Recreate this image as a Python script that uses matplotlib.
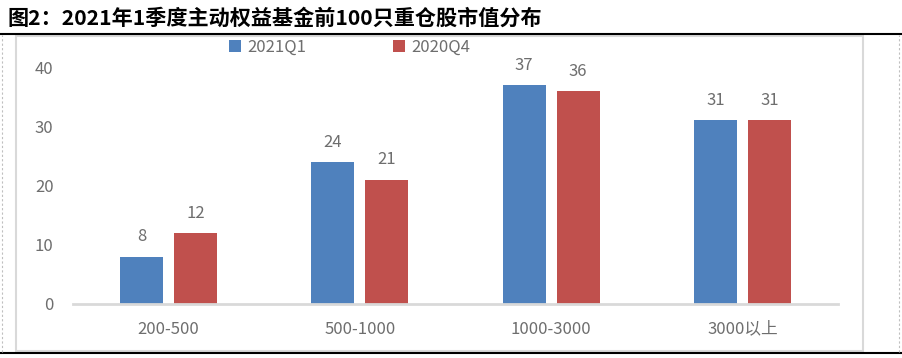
import matplotlib
matplotlib.use("Agg")
import matplotlib.pyplot as plt
import numpy as np
from matplotlib.patches import Rectangle
from matplotlib.lines import Line2D

plt.rcParams['font.family'] = ['Noto Sans CJK SC', 'DejaVu Sans']

title = "图2：2021年1季度主动权益基金前100只重仓股市值分布"
categories = ["200-500", "500-1000", "1000-3000", "3000以上"]
series_names = ["2021Q1", "2020Q4"]
q1_2021 = [8, 24, 37, 31]
q4_2020 = [12, 21, 36, 31]
colors = ["#4F81BD", "#C0504D"]
yticks = [0, 10, 20, 30, 40]

W, H = 903, 358
fig = plt.figure(figsize=(W / 100, H / 100), dpi=100)

# frame decorations
fig.add_artist(Line2D([0, 1], [1 - 34 / H, 1 - 34 / H], color="black", lw=1.5, transform=fig.transFigure))
fig.add_artist(Line2D([0, 1], [1 - 353 / H, 1 - 353 / H], color="black", lw=1.5, transform=fig.transFigure))
fig.add_artist(Rectangle((16 / W, 1 - 351 / H), (863 - 16) / W, (351 - 36) / H, fill=False,
                         edgecolor="#d9d9d9", lw=1.5, transform=fig.transFigure))
for xv in (2 / W, 899 / W):
    fig.add_artist(Line2D([xv, xv], [1 - 352 / H, 1 - 35 / H], color="#bfbfbf", lw=0.8,
                          ls=(0, (2, 2)), transform=fig.transFigure))

fig.text(8 / W, 1 - 18 / H, title, fontsize=15.2, fontweight="bold", va="center", ha="left", color="black")

txt_color = "#6e6e6e"
fw = "light"
ax = fig.add_axes([73 / W, 1 - 304 / H, (838 - 73) / W, (304 - 67) / H])
x = np.arange(len(categories))
bw = 0.225
off = 0.141
b1 = ax.bar(x - off, q1_2021, bw, color=colors[0], label=series_names[0], zorder=2)
b2 = ax.bar(x + off, q4_2020, bw, color=colors[1], label=series_names[1], zorder=2)
for bars in (b1, b2):
    for r in bars:
        ax.annotate(f"{int(r.get_height())}", (r.get_x() + r.get_width() / 2, r.get_height()),
                    xytext=(0, 8), textcoords="offset points", ha="center", va="bottom",
                    fontsize=12, color=txt_color, fontweight=fw)

ax.set_xlim(-0.5, len(categories) - 0.5)
ax.set_ylim(0, 40)
ax.set_yticks(yticks)
ax.set_yticklabels([str(v) for v in yticks], fontsize=12, color=txt_color, fontweight=fw)
ax.set_xticks(x)
ax.set_xticklabels(categories, fontsize=12, color=txt_color, fontweight=fw)
ax.tick_params(axis="both", length=0)
ax.tick_params(axis="y", pad=14)
ax.tick_params(axis="x", pad=12)
for s in ("top", "right", "left"):
    ax.spines[s].set_visible(False)
ax.spines["bottom"].set_color("#d9d9d9")
ax.spines["bottom"].set_linewidth(2)
ax.patch.set_alpha(0)

leg = fig.legend(handles=[b1, b2], labels=series_names, loc="center", bbox_to_anchor=(350 / W, 1 - 47 / H),
                 ncol=2, frameon=False, fontsize=12, handlelength=0.7, handleheight=0.7,
                 columnspacing=5.2, handletextpad=0.4, prop={"weight": fw, "size": 12})
for t in leg.get_texts():
    t.set_color(txt_color)

fig.savefig("out.png", dpi=100)
